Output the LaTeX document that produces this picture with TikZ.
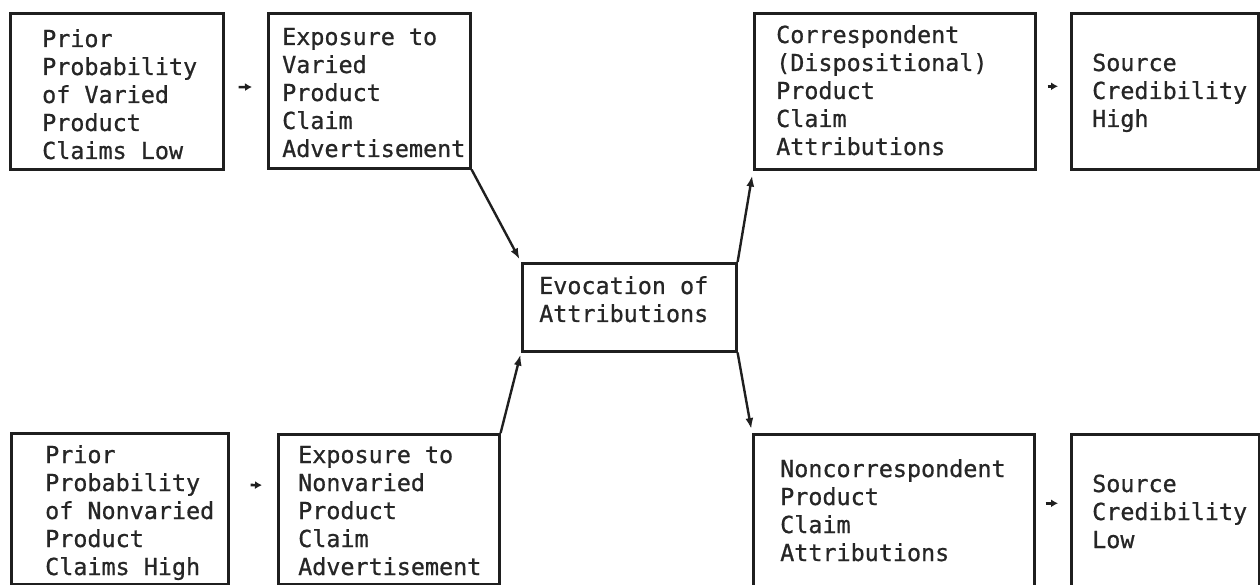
\documentclass[tikz,border=0pt]{standalone}
\usepackage{fontspec}
\setmonofont[FakeBold=0.8]{DejaVu Sans Mono}
\usetikzlibrary{arrows.meta}
\begin{document}
\begin{tikzpicture}[x=1pt,y=-1pt,
  box/.style={draw=black!88, line width=2.6pt, inner sep=0pt, anchor=north west},
  txt/.style={anchor=base west, inner sep=0pt, text=black!85},
  link/.style={draw=black!88, line width=2.4pt, -{Latex[length=11pt,width=8pt]}},
  nudge/.style={draw=black!88, line width=2.6pt, -{Latex[length=7pt,width=8pt]}}
]
\newcommand{\boxtext}[1]{\parbox[t]{300pt}{\raggedright\ttfamily\fontsize{23.4}{28}\selectfont #1}}
\useasboundingbox (0,0) rectangle (1260,585);
\clip (0,0) rectangle (1260,585);

% boxes
\node[box, minimum width=213pt, minimum height=156pt] (A) at (9,12) {};
\node[box, minimum width=202pt, minimum height=155pt] (B) at (267,12) {};
\node[box, minimum width=281pt, minimum height=156pt] (C) at (753,12) {};
\node[box, minimum width=187pt, minimum height=156pt] (D) at (1070,12) {};
\node[box, minimum width=214pt, minimum height=88pt] (E) at (521,262) {};
\node[box, minimum width=217pt, minimum height=151pt] (F) at (10,432) {};
\node[box, minimum width=221pt, minimum height=150pt] (G) at (277,433) {};
\node[box, minimum width=281pt, minimum height=160pt] (H) at (752,433) {};
\node[box, minimum width=188pt, minimum height=160pt] (I) at (1070,433) {};

% box texts
\node[txt] (At) at (42,47) {\boxtext{Prior\\Probability\\of Varied\\Product\\Claims Low}};
\node[txt] (Bt) at (282,45) {\boxtext{Exposure to\\Varied\\Product\\Claim\\Advertisement}};
\node[txt] (Ct) at (776,43) {\boxtext{Correspondent\\(Dispositional)\\Product\\Claim\\Attributions}};
\node[txt] (Dt) at (1092,71) {\boxtext{Source\\Credibility\\High}};
\node[txt] (Et) at (539,294) {\boxtext{Evocation of\\Attributions}};
\node[txt] (Ft) at (45,463) {\boxtext{Prior\\Probability\\of Nonvaried\\Product\\Claims High}};
\node[txt] (Gt) at (298,463) {\boxtext{Exposure to\\Nonvaried\\Product\\Claim\\Advertisement}};
\node[txt] (Ht) at (780,477) {\boxtext{Noncorrespondent\\Product\\Claim\\Attributions}};
\node[txt] (It) at (1092,492) {\boxtext{Source\\Credibility\\Low}};

% short arrows between neighbouring boxes
\draw[nudge, shorten <=14pt, shorten >=15pt] ([yshift=4pt]A.east) -- ([yshift=4pt]B.west);
\draw[nudge, shorten <=21pt, shorten >=15pt] ([yshift=24pt]F.east) -- ([yshift=24pt]G.west);
\draw[nudge, shorten <=11pt, shorten >=12pt] ([yshift=5pt]C.east) -- ([yshift=5pt]D.west);
\draw[nudge, shorten <=10pt, shorten >=12pt] ([yshift=11pt]H.east) -- ([yshift=11pt]I.west);

% arrows into and out of the central box
\draw[link, shorten >=3pt] (B.south east) -- (E.north west);
\draw[link, shorten >=2pt] (G.north east) -- (E.south west);
\draw[link, shorten >=5pt] (E.north east) -- (C.south west);
\draw[link, shorten >=4pt] (E.south east) -- (H.north west);
\end{tikzpicture}
\end{document}
